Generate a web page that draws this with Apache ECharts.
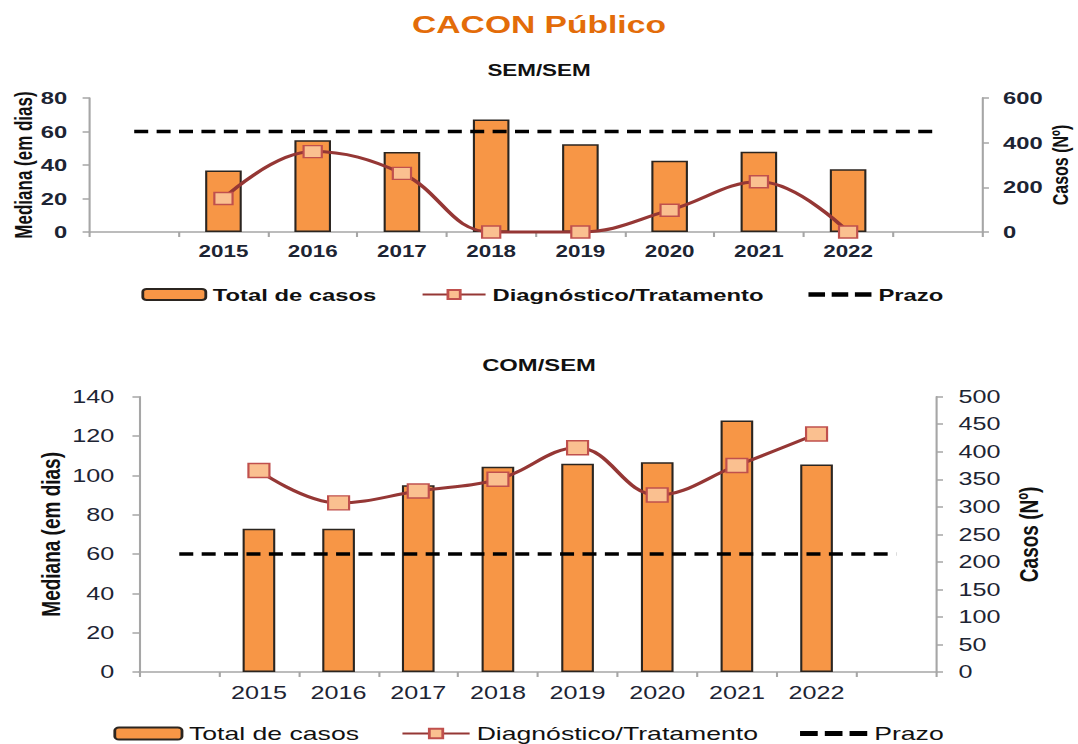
<!DOCTYPE html>
<html>
<head>
<meta charset="utf-8">
<title>CACON Público</title>
<script src="https://cdn.jsdelivr.net/npm/echarts@6/dist/echarts.min.js"></script>
<style>
  html, body { margin: 0; padding: 0; background: #fff; overflow: hidden; }
  /* the source picture is stretched sideways, so the chart is drawn narrow and widened */
  #chart { width: 770px; height: 744px; transform: scaleX(1.4); transform-origin: 0 0; }
</style>
</head>
<body>
<div id="chart"></div>
<script>
  // empty category at each end, like the original sheet
  var categories = ['', '2015', '2016', '2017', '2018', '2019', '2020', '2021', '2022', ''];

  // SEM/SEM
  var semTotal = ['-', 275, 411, 358, 504, 393, 319, 359, 281, '-'];
  var semMediana = ['-', 20, 48, 35, 0, 0, 13, 30, 0, '-'];
  var semPrazo = [60, 60, 60, 60, 60, 60, 60, 60, 60, 60];

  // COM/SEM
  var comTotal = ['-', 260, 260, 339, 373, 378, 381, 457, 377, '-'];
  var comMediana = ['-', 102.5, 86, 92, 98, 114, 90, 105, 121, '-'];
  var comPrazo = [60, 60, 60, 60, 60, 60, 60, 60, 60, 60];

  var chart = echarts.init(document.getElementById('chart'), null, {renderer: 'svg'});

  var FONT = 'Liberation Sans, Arial, sans-serif';
  var LABEL = '#1d2433';
  var AXIS = '#a6a6a6';
  // three short dashes for the Prazo legend item
  var DASH_ICON = 'path://M0,0H10V4H0Z M14,0H24V4H14Z M28,0H38V4H28Z';

  function catAxis(grid, size, bold, margin) {
    return {
      type: 'category',
      gridIndex: grid,
      data: categories,
      boundaryGap: true,
      axisLine: {lineStyle: {color: AXIS, width: 1.5}},
      axisTick: {show: true, alignWithLabel: false, length: 5, lineStyle: {color: AXIS, width: 1.5}},
      axisLabel: {color: LABEL, fontSize: size, fontWeight: bold ? 'bold' : 'normal', fontFamily: FONT, margin: margin, interval: 0}
    };
  }

  function valAxis(grid, pos, max, interval, name, size, bold, nameSize, nameGap, margin) {
    return {
      type: 'value',
      gridIndex: grid,
      position: pos,
      min: 0,
      max: max,
      interval: interval,
      name: name,
      nameLocation: 'middle',
      nameRotate: 90,
      nameGap: nameGap,
      nameMoveOverlap: false,
      nameTextStyle: {color: '#111', fontSize: nameSize, fontWeight: 'bold', fontFamily: FONT},
      splitLine: {show: false},
      axisLine: {show: true, lineStyle: {color: AXIS, width: 1.5}},
      axisTick: {show: true, length: 5, lineStyle: {color: AXIS, width: 1.5}},
      axisLabel: {color: LABEL, fontSize: size, fontWeight: bold ? 'bold' : 'normal', fontFamily: FONT, margin: margin}
    };
  }

  function barSeries(x, y, data) {
    return {
      name: 'Total de casos',
      type: 'bar',
      xAxisIndex: x,
      yAxisIndex: y,
      data: data,
      barWidth: '41%',
      itemStyle: {color: '#F79646', borderColor: '#2b2520', borderWidth: 1.5}
    };
  }

  function lineSeries(x, y, data, size) {
    return {
      name: 'Diagnóstico/Tratamento',
      type: 'line',
      xAxisIndex: x,
      yAxisIndex: y,
      data: data,
      smooth: 0.4,
      clip: false,
      symbol: 'rect',
      symbolSize: size,
      lineStyle: {color: '#953735', width: 3},
      itemStyle: {color: '#FAC090', borderColor: '#C0504D', borderWidth: 1.5},
      z: 5
    };
  }

  function prazoSeries(x, y, data) {
    return {
      name: 'Prazo',
      type: 'line',
      xAxisIndex: x,
      yAxisIndex: y,
      data: data,
      symbol: 'none',
      lineStyle: {color: '#000', width: 3.5, type: [10, 6]},
      itemStyle: {color: '#000'},
      z: 4
    };
  }

  var legendNames = [
    'Total de casos',
    'Diagnóstico/Tratamento',
    {name: 'Prazo', icon: DASH_ICON, itemStyle: {color: '#000', borderWidth: 0}}
  ];

  var option = {
    animation: false,
    title: [
      {text: 'CACON Público', left: 'center', top: 8,
        textStyle: {color: '#E36C09', fontSize: 24, fontWeight: 'bold', fontFamily: FONT}},
      {text: 'SEM/SEM', left: 'center', top: 57,
        textStyle: {color: '#111', fontSize: 16, fontWeight: 'bold', fontFamily: FONT}},
      {text: 'COM/SEM', left: 'center', top: 351,
        textStyle: {color: '#111', fontSize: 17, fontWeight: 'bold', fontFamily: FONT}}
    ],
    legend: [
      {
        data: legendNames,
        left: 96, top: 281,
        itemWidth: 45, itemHeight: 11, itemGap: 32,
        textStyle: {color: '#111', fontSize: 17, fontWeight: 'bold', fontFamily: FONT}
      },
      {
        data: legendNames,
        left: 76, top: 719,
        itemWidth: 48, itemHeight: 12, itemGap: 30,
        textStyle: {color: '#111', fontSize: 19, fontFamily: FONT}
      }
    ],
    grid: [
      {left: 64, right: 68.6, top: 98, bottom: 512, outerBoundsMode: 'none'},
      {left: 99.6, right: 101.4, top: 396.7, bottom: 72, outerBoundsMode: 'none'}
    ],
    xAxis: [
      catAxis(0, 16, true, 11),
      catAxis(1, 18, false, 12)
    ],
    yAxis: [
      valAxis(0, 'left', 80, 20, 'Mediana (em dias)', 17, true, 17, 39, 16),
      valAxis(0, 'right', 600, 200, 'Casos (Nº)', 17, true, 16, 48, 15),
      valAxis(1, 'left', 140, 20, 'Mediana (em dias)', 18, false, 19, 54, 18),
      valAxis(1, 'right', 500, 50, 'Casos (Nº)', 18, false, 19, 57, 16)
    ],
    series: [
      barSeries(0, 1, semTotal),
      lineSeries(0, 0, semMediana, [13, 12]),
      prazoSeries(0, 0, semPrazo),
      barSeries(1, 3, comTotal),
      lineSeries(1, 2, comMediana, [15, 14]),
      prazoSeries(1, 2, comPrazo)
    ]
  };

  chart.setOption(option);
</script>
</body>
</html>
